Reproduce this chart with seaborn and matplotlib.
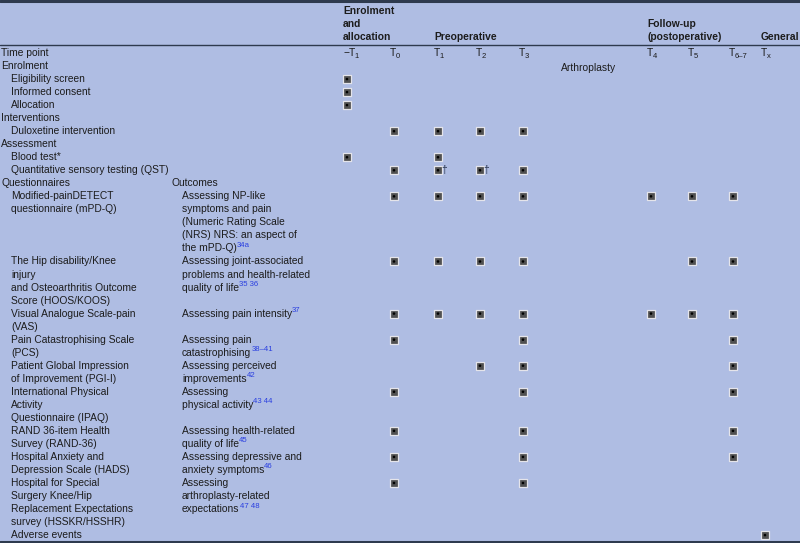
import pandas as pd
import matplotlib.pyplot as plt
import seaborn as sns

# time point columns (main letter, subscript)
timepoints = ["-T1", "T0", "T1", "T2", "T3", "T4", "T5", "T6-7", "Tx"]
tp_main = ["\u2212T", "T", "T", "T", "T", "T", "T", "T", "T"]
tp_sub = ["1", "0", "1", "2", "3", "4", "5", "6\u20137", "x"]

# rows: (text lines of column 1, style) ; style: h = section, i = indented item
rows_left = [
    (["Enrolment"], "h"),
    (["Eligibility screen"], "i"),
    (["Informed consent"], "i"),
    (["Allocation"], "i"),
    (["Interventions"], "h"),
    (["Duloxetine intervention"], "i"),
    (["Assessment"], "h"),
    (["Blood test*"], "i"),
    (["Quantitative sensory testing (QST)"], "i"),
    (["Questionnaires"], "h"),
    (["Modified-painDETECT", "questionnaire (mPD-Q)"], "i"),
    (["The Hip disability/Knee", "injury", "and Osteoarthritis Outcome", "Score (HOOS/KOOS)"], "i"),
    (["Visual Analogue Scale-pain", "(VAS)"], "i"),
    (["Pain Catastrophising Scale", "(PCS)"], "i"),
    (["Patient Global Impression", "of Improvement (PGI-I)"], "i"),
    (["International Physical", "Activity", "Questionnaire (IPAQ)"], "i"),
    (["RAND 36-item Health", "Survey (RAND-36)"], "i"),
    (["Hospital Anxiety and", "Depression Scale (HADS)"], "i"),
    (["Hospital for Special", "Surgery Knee/Hip", "Replacement Expectations", "survey (HSSKR/HSSHR)"], "i"),
    (["Adverse events"], "i"),
]

# outcome column text and reference superscripts, keyed by row index
outcomes = {
    10: (["Assessing NP-like", "symptoms and pain", "(Numeric Rating Scale", "(NRS) NRS: an aspect of", "the mPD-Q)"], "34a"),
    11: (["Assessing joint-associated", "problems and health-related", "quality of life"], "35 36"),
    12: (["Assessing pain intensity"], "37"),
    13: (["Assessing pain", "catastrophising"], "38\u201341"),
    14: (["Assessing perceived", "improvements"], "42"),
    15: (["Assessing", "physical activity"], "43 44"),
    16: (["Assessing health-related", "quality of life"], "45"),
    17: (["Assessing depressive and", "anxiety symptoms"], "46"),
    18: (["Assessing", "arthroplasty-related", "expectations"], "47 48"),
}

# schedule marks
mark_rows = (
    [1, 2, 3]
    + [5, 5, 5, 5]
    + [7, 7]
    + [8, 8, 8, 8]
    + [10] * 7
    + [11] * 6
    + [12] * 7
    + [13] * 3
    + [14] * 3
    + [15] * 3
    + [16] * 3
    + [17] * 3
    + [18] * 2
    + [19]
)
mark_cols = (
    ["-T1", "-T1", "-T1"]
    + ["T0", "T1", "T2", "T3"]
    + ["-T1", "T1"]
    + ["T0", "T1", "T2", "T3"]
    + ["T0", "T1", "T2", "T3", "T4", "T5", "T6-7"]
    + ["T0", "T1", "T2", "T3", "T5", "T6-7"]
    + ["T0", "T1", "T2", "T3", "T4", "T5", "T6-7"]
    + ["T0", "T3", "T6-7"]
    + ["T2", "T3", "T6-7"]
    + ["T0", "T3", "T6-7"]
    + ["T0", "T3", "T6-7"]
    + ["T0", "T3", "T6-7"]
    + ["T0", "T3"]
    + ["Tx"]
)
dagger_rows = [8, 8]
dagger_cols = ["T1", "T2"]

# ---- layout ----
W, H = 800, 543
BG = "#AFBDE3"
INK = "#1c1c1c"
RULE = "#2e3a4e"
REF = "#2a3fe0"
FS = 7.4
col_x = dict(zip(timepoints, [343, 390, 434, 476, 519, 647, 688, 729, 761]))
y0, pitch = 53, 13.03

# line index of each row
row_line = []
line = 1
for idx, (lines, _) in enumerate(rows_left):
    row_line.append(line)
    n = len(lines)
    if idx in outcomes:
        n = max(n, len(outcomes[idx][0]))
    line += n

def ly(l):
    return y0 + pitch * l

sns.set_theme(style="white")
plt.rcParams["font.family"] = ["Liberation Sans", "DejaVu Sans"]

fig = plt.figure(figsize=(8, 5.43), dpi=100, facecolor=BG)
ax = fig.add_axes([0, 0, 1, 1])
ax.set_facecolor(BG)
ax.set_xlim(0, W)
ax.set_ylim(H, 0)
ax.axis("off")

# rules
ax.axhline(1, color=RULE, lw=2.2)
ax.axhline(44.5, color=RULE, lw=1.0)
ax.axhline(541.5, color=RULE, lw=2.2)

# group headings
hd = dict(fontsize=FS, fontweight="bold", color=INK, va="center", ha="left")
for i, s in enumerate(["Enrolment", "and", "allocation"]):
    ax.text(col_x["-T1"], 10.5 + 13.3 * i, s, **hd)
ax.text(col_x["T1"], 37, "Preoperative", **hd)
ax.text(col_x["T4"], 24, "Follow-up", **hd)
ax.text(col_x["T4"], 37, "(postoperative)", **hd)
ax.text(col_x["Tx"], 37, "General", **hd)

# time point row
txt = dict(fontsize=FS, color=INK, va="center", ha="left")
ax.text(1, ly(0), "Time point", **txt)
for tp, m, s in zip(timepoints, tp_main, tp_sub):
    t = ax.text(col_x[tp], ly(0), m, **txt)
    ax.annotate(s, xy=(1, 0.2), xycoords=t, xytext=(-0.6, 0), textcoords="offset points",
                fontsize=FS * 0.74, color=INK, va="center", ha="left")
ax.text(561, ly(1.15), "Arthroplasty", **txt)

# column 1 and outcomes
for idx, (lines, style) in enumerate(rows_left):
    x = 1 if style == "h" else 11
    for k, s in enumerate(lines):
        ax.text(x, ly(row_line[idx] + k), s, **txt)
    if idx == 9:
        ax.text(172, ly(row_line[idx]), "Outcomes", **txt)
    if idx in outcomes:
        olines, ref = outcomes[idx]
        for k, s in enumerate(olines):
            t = ax.text(182, ly(row_line[idx] + k), s, **txt)
        ax.annotate(ref, xy=(1, 0.8), xycoords=t, xytext=(0.0, 0), textcoords="offset points",
                    fontsize=FS * 0.76, color=REF, va="center", ha="left")

# marks
df = pd.DataFrame({"row": mark_rows, "tp": mark_cols})
df["x"] = df["tp"].map(col_x) + 4
df["y"] = df["row"].map(lambda r: ly(row_line[r]))
sns.scatterplot(data=df, x="x", y="y", marker="s", s=30, color="#505050",
                edgecolor="#e4e4ea", linewidth=0.9, ax=ax, legend=False, zorder=3)
sns.scatterplot(data=df, x="x", y="y", marker="o", s=3.5, color="black",
                edgecolor="none", ax=ax, legend=False, zorder=4)
for r, c in zip(dagger_rows, dagger_cols):
    ax.text(col_x[c] + 7.5, ly(row_line[r]), "\u2020", fontsize=FS, color="#24304a",
            va="center", ha="left")

ax.set_xlabel("")
ax.set_ylabel("")
ax.set_xlim(0, W)
ax.set_ylim(H, 0)
fig.savefig("out.png", dpi=100, facecolor=BG)
